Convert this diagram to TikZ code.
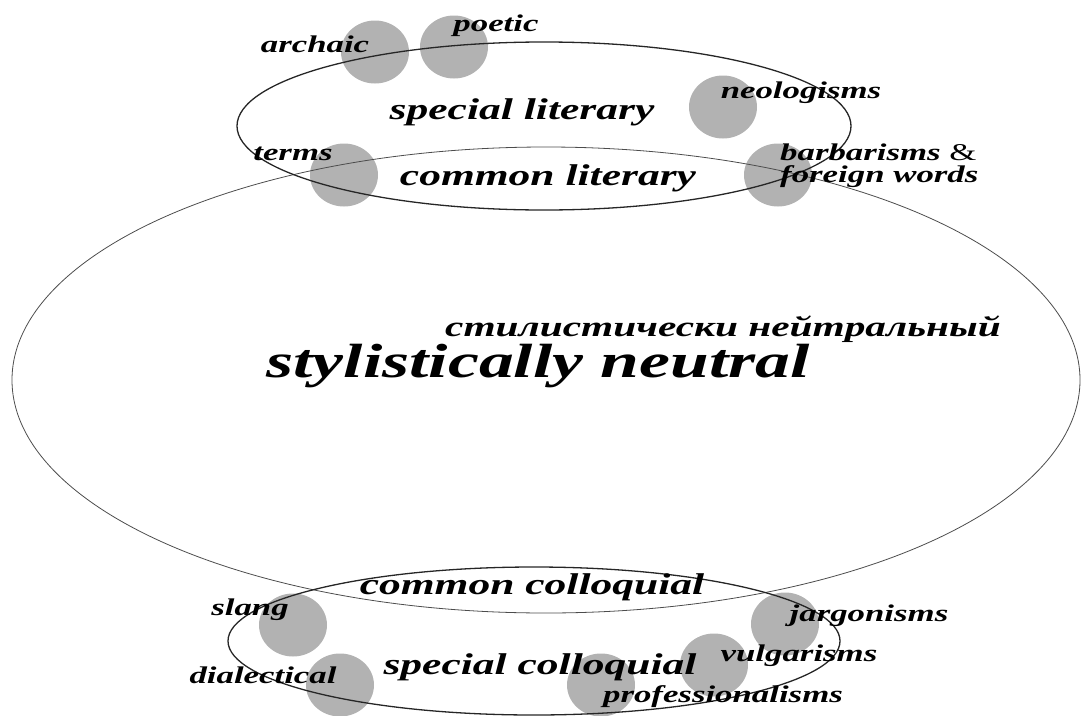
\documentclass[tikz,border=0pt]{standalone}
\usepackage{fontspec}
\usepackage{xcolor}
\usepackage{tikz}
\usetikzlibrary{shapes.geometric}
\newfontfamily\lblfont[FakeStretch=1.45]{Liberation Serif}
\definecolor{blobgray}{RGB}{178,178,178}

\begin{document}
\begin{tikzpicture}[x=1pt, y=-1pt,
    blob/.style={ellipse, fill=blobgray, minimum width=68pt, minimum height=63pt, inner sep=0pt},
    field/.style={ellipse, draw=black!85, line width=1.3pt, inner sep=0pt},
    word/.style={font=\lblfont\bfseries\itshape\fontsize{24}{24}\selectfont, inner sep=0pt},
    group/.style={font=\lblfont\bfseries\itshape\fontsize{30}{30}\selectfont, inner sep=0pt}
]
\useasboundingbox (0,0) rectangle (1081,715);

% grey spots
\node[blob] (archaicdot) at (375,52) {};
\node[blob] (poeticdot) at (454,47) {};
\node[blob] (neodot) at (723,107) {};
\node[blob] (termsdot) at (344,175) {};
\node[blob] (barbdot) at (778,175) {};
\node[blob] (slangdot) at (293,625) {};
\node[blob] (dialdot) at (340,685) {};
\node[blob] (profdot) at (601,685) {};
\node[blob] (vulgdot) at (714,665) {};
\node[blob] (jargdot) at (785,624) {};

% the three fields
\node[field, draw=black!70, line width=0.8pt, minimum width=1068pt, minimum height=466pt] (neutral) at (546,380) {};
\node[field, minimum width=614pt, minimum height=168pt] (literary) at (544,126) {};
\node[field, minimum width=612pt, minimum height=148pt] (colloquial) at (534,641) {};

% literary side
\node[word] (archaic) at (315,44) {archaic};
\node[word] (poetic) at (496,26) {poetic};
\node[group] (speclit) at (522,112) {special literary};
\node[word] (neo) at (801,93) {neologisms};
\node[word] (terms) at (293,154) {terms};
\node[group] (comlit) at (548,178) {common literary};
\node[word, anchor=west] (barb) at (780,152) {barbarisms {\mdseries\upshape\&}};
\node[word, anchor=west] (foreign) at (780,177) {foreign words};

% neutral layer
\node[group, font=\lblfont\bfseries\itshape\fontsize{28.5}{28.5}\selectfont] (neutralru) at (723,329) {стилистически нейтральный};
\node[group, font=\lblfont\bfseries\itshape\fontsize{48}{48}\selectfont] (neutralen) at (538,366) {stylistically neutral};

% colloquial side
\node[group] (comcol) at (532,587) {common colloquial};
\node[word] (slang) at (250,610) {slang};
\node[word] (jarg) at (869,616) {jargonisms};
\node[word] (vulg) at (799,656) {vulgarisms};
\node[group] (speccol) at (540,667) {special colloquial};
\node[word] (dial) at (263,675) {dialectical};
\node[word] (prof) at (723,697) {professionalisms};

\end{tikzpicture}
\end{document}
